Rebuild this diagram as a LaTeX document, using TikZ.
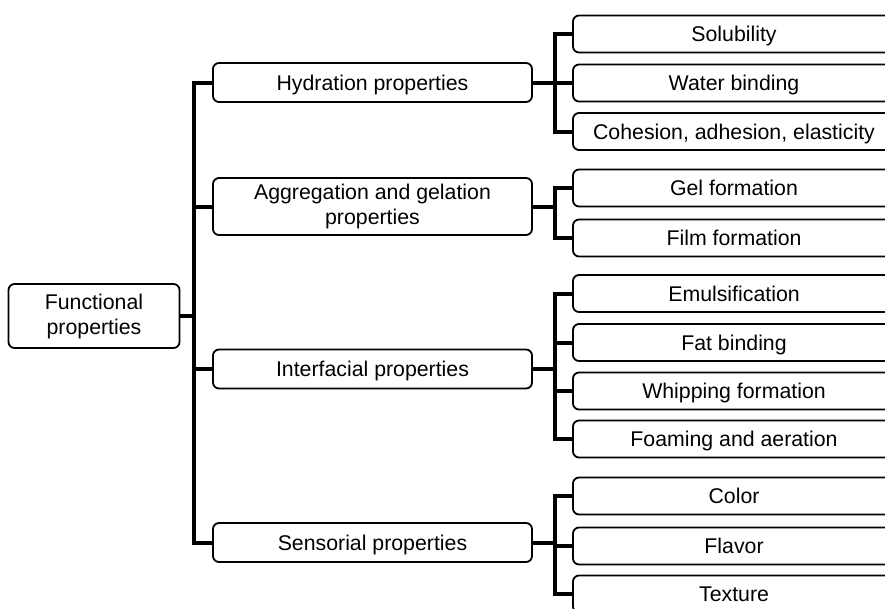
\documentclass[tikz,border=0pt]{standalone}
\usepackage{fontspec}
\setmainfont{Liberation Sans}
\begin{document}
\begin{tikzpicture}[x=1pt,y=-1pt,
  box/.style={draw=black,line width=1.8pt,rounded corners=6pt,fill=white,inner sep=0pt,
    font=\fontsize{21.3}{25}\selectfont,align=center,text=black},
  one/.style={text height=15.5pt,text depth=0.5pt},
  leaf/.style={box,one,minimum width=322pt,minimum height=37pt},
  mid/.style={box,one,minimum width=319pt,minimum height=39pt},
  midtwo/.style={box,minimum width=319pt,minimum height=57pt},
  conn/.style={draw=black,line width=4pt,line join=miter}]
\useasboundingbox (0,0) rectangle (885,608);
\clip (0,0) rectangle (885,608);
\fill[white] (0,0) rectangle (885,608);
% nodes
\node[box,minimum width=171pt,minimum height=64pt] (root) at (94,316) {Functional\\properties};
\node[mid] (hyd) at (372.5,82.5) {Hydration properties};
\node[midtwo] (agg) at (372.5,206.5) {Aggregation and gelation\\properties};
\node[mid] (itf) at (372.5,369) {Interfacial properties};
\node[mid] (sen) at (372.5,542.5) {Sensorial properties};
\node[leaf] (sol) at (734,34) {Solubility};
\node[leaf] (wat) at (734,83) {Water binding};
\node[leaf] (coh) at (734,131.5) {Cohesion, adhesion, elasticity};
\node[leaf] (gel) at (734,188) {Gel formation};
\node[leaf] (fil) at (734,238) {Film formation};
\node[leaf] (emu) at (734,293.5) {Emulsification};
\node[leaf] (fat) at (734,342.5) {Fat binding};
\node[leaf] (whi) at (734,391) {Whipping formation};
\node[leaf] (foa) at (734,439) {Foaming and aeration};
\node[leaf] (col) at (734,496) {Color};
\node[leaf] (fla) at (734,546) {Flavor};
\node[leaf] (tex) at (734,594) {Texture};
% trunk coordinates
\coordinate (tx) at (194,0);
\coordinate (lx) at (555,0);
% main trunk
\draw[conn] (hyd.west) -- (hyd.west -| tx) -- (sen.west -| tx) -- (sen.west);
\draw[conn] (agg.west) -- (agg.west -| tx);
\draw[conn] (itf.west) -- (itf.west -| tx);
\draw[conn] (root.east) -- (root.east -| tx);
% hydration group
\draw[conn] (hyd.east) -- (hyd.east -| lx);
\draw[conn] (sol.west) -- (sol.west -| lx) -- (coh.west -| lx) -- (coh.west);
\draw[conn] (wat.west) -- (wat.west -| lx);
% aggregation group
\draw[conn] (agg.east) -- (agg.east -| lx);
\draw[conn] (gel.west) -- (gel.west -| lx) -- (fil.west -| lx) -- (fil.west);
% interfacial group
\draw[conn] (itf.east) -- (itf.east -| lx);
\draw[conn] (emu.west) -- (emu.west -| lx) -- (foa.west -| lx) -- (foa.west);
\draw[conn] (fat.west) -- (fat.west -| lx);
\draw[conn] (whi.west) -- (whi.west -| lx);
% sensorial group
\draw[conn] (sen.east) -- (sen.east -| lx);
\draw[conn] (col.west) -- (col.west -| lx) -- (tex.west -| lx) -- (tex.west);
\draw[conn] (fla.west) -- (fla.west -| lx);
\end{tikzpicture}
\end{document}
